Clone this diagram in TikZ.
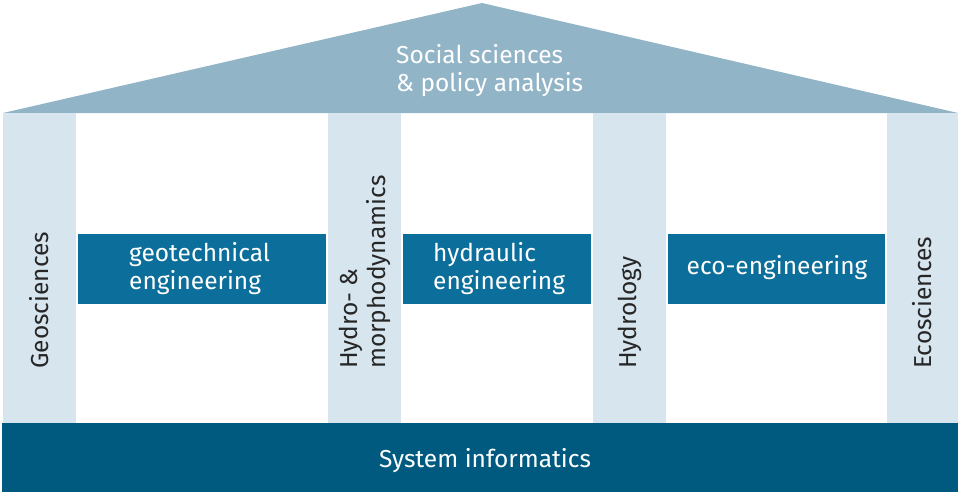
\documentclass[tikz,border=0pt]{standalone}
\usepackage{fontspec}
\setmainfont{Fira Sans}
\definecolor{roofc}{HTML}{92B4C7}
\definecolor{colc}{HTML}{D6E5EE}
\definecolor{boxc}{HTML}{0C6E9A}
\definecolor{basec}{HTML}{005A80}
\definecolor{darktext}{HTML}{262626}
\begin{document}
\begin{tikzpicture}[x=1pt,y=-1pt,
  txt/.style={font=\fontsize{24.5}{28}\selectfont,inner sep=0pt},
  coltxt/.style={txt,text=darktext,rotate=90},
  column/.style={fill=colc,draw=none,rectangle,inner sep=0pt,minimum width=73pt,minimum height=310pt,anchor=north west},
  engbox/.style={fill=boxc,draw=none,rectangle,inner sep=0pt,minimum height=70pt,anchor=north west},
]
\useasboundingbox (0,0) rectangle (961,495);
% roof
\fill[roofc] (3,113) -- (482,3) -- (958,113) -- cycle;
\node[txt,text=white,align=left,anchor=west] (roof) at (396,71) {Social sciences\\\& policy analysis};
% columns
\node[column] (c1) at (3,113) {};
\node[column] (c2) at (328,113) {};
\node[column] (c3) at (593,113) {};
\node[column,minimum width=71pt] (c4) at (887,113) {};
% engineering boxes
\node[engbox,minimum width=248pt] (e1) at (78,234) {};
\node[engbox,minimum width=188pt] (e2) at (403,234) {};
\node[engbox,minimum width=217pt] (e3) at (668,234) {};
\node[txt,text=white,align=left,anchor=west] (t1) at (129,269) {geotechnical\\engineering};
\node[txt,text=white,align=left,anchor=west] (t2) at (433,269) {hydraulic\\engineering};
\node[txt,text=white] (t3) at (777,268) {eco-engineering};
% column labels
\node[coltxt,anchor=base west] (l1) at (48,369) {Geosciences};
\node[coltxt,align=left,anchor=west] (l2) at (364.5,369) {Hydro- \&\\morphodynamics};
\node[coltxt,anchor=base west] (l3) at (636,369) {Hydrology};
\node[coltxt,anchor=base west] (l4) at (931,369) {Ecosciences};
% base
\node[fill=basec,rectangle,inner sep=0pt,minimum width=956pt,minimum height=69pt,anchor=north west] (base) at (2,423) {};
\node[txt,text=white] (bt) at (485,461) {System informatics};
\end{tikzpicture}
\end{document}
